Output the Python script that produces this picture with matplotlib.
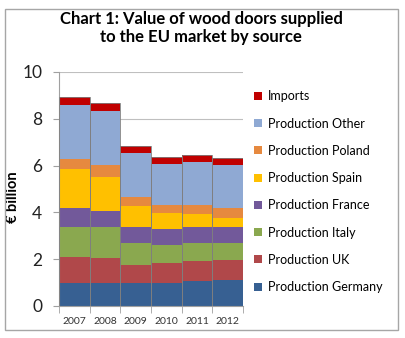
import numpy as np
import matplotlib.pyplot as plt
from matplotlib.patches import Rectangle

plt.rcParams['font.family'] = ['Lato', 'DejaVu Sans']

# Data (EUR billion)
years = ['2007', '2008', '2009', '2010', '2011', '2012']
series = ['Production Germany', 'Production UK', 'Production Italy',
          'Production France', 'Production Spain', 'Production Poland',
          'Production Other', 'Imports']
germany = [0.97, 0.96, 0.97, 1.00, 1.05, 1.11]
uk      = [1.11, 1.09, 0.77, 0.82, 0.89, 0.86]
italy   = [1.28, 1.31, 0.97, 0.79, 0.77, 0.74]
france  = [0.83, 0.69, 0.65, 0.67, 0.65, 0.65]
spain   = [1.68, 1.45, 0.93, 0.68, 0.56, 0.41]
poland  = [0.40, 0.54, 0.38, 0.36, 0.40, 0.43]
other   = [2.31, 2.28, 1.87, 1.75, 1.83, 1.84]
imports = [0.34, 0.34, 0.28, 0.30, 0.32, 0.28]
values = [germany, uk, italy, france, spain, poland, other, imports]
colors = ['#376092', '#B0484A', '#8AA84F', '#72599A', '#FFC000',
          '#E6893F', '#8FA9D3', '#C00000']

fig = plt.figure(figsize=(4.06, 3.38), dpi=100)
ax = fig.add_axes([0.145, 0.095, 0.454, 0.692])

x = np.arange(len(years))
bottom = np.zeros(len(years))
handles = []
for name, vals, c in zip(series, values, colors):
    h = ax.bar(x, vals, width=1.0, bottom=bottom, color=c, edgecolor='none',
               label=name, zorder=2)
    handles.append(h)
    bottom += np.array(vals)
# outline of each whole bar
ax.bar(x, bottom, width=1.0, facecolor='none', edgecolor='#7F7F7F',
       linewidth=0.6, zorder=3)

ax.set_xlim(-0.5, len(years) - 0.5)
ax.set_ylim(0, 10)
ax.set_yticks([0, 2, 4, 6, 8, 10])
ax.yaxis.grid(True, color='#BFBFBF', linewidth=0.8, zorder=0)
ax.set_axisbelow(True)
ax.tick_params(axis='y', labelsize=12.5, length=4, color='#A0A0A0', pad=8,
               labelcolor='#222222')
ax.set_xticks(x)
ax.set_xticklabels(years)
ax.set_xticks(np.arange(-0.5, len(years)), minor=True)
ax.tick_params(axis='x', which='major', length=0, labelsize=7.5, pad=8,
               labelcolor='#333333')
ax.tick_params(axis='x', which='minor', length=5, color='#A0A0A0')
for s in ['top', 'right']:
    ax.spines[s].set_visible(False)
ax.spines['left'].set_color('#A0A0A0')
ax.spines['bottom'].set_color('#A0A0A0')
ax.set_ylabel('€ billion', fontsize=10.5, fontweight='bold')
ax.yaxis.set_label_coords(-0.21, 0.466)

leg = ax.legend(handles[::-1], series[::-1], loc='upper left',
                bbox_to_anchor=(1.0, 0.97), frameon=False, fontsize=9,
                handlelength=0.6, handleheight=0.6, handletextpad=0.5,
                labelspacing=1.22)

fig.text(0.495, 0.917, 'Chart 1: Value of wood doors supplied\nto the EU market by source',
         ha='center', va='center', fontsize=12, fontweight='bold',
         linespacing=1.1)

fig.patches.append(Rectangle((5 / 406, 8 / 338), 393 / 406, 321 / 338,
                             transform=fig.transFigure, fill=False,
                             edgecolor='#A6A6A6', linewidth=1.0))

fig.savefig('out.png', dpi=100)
